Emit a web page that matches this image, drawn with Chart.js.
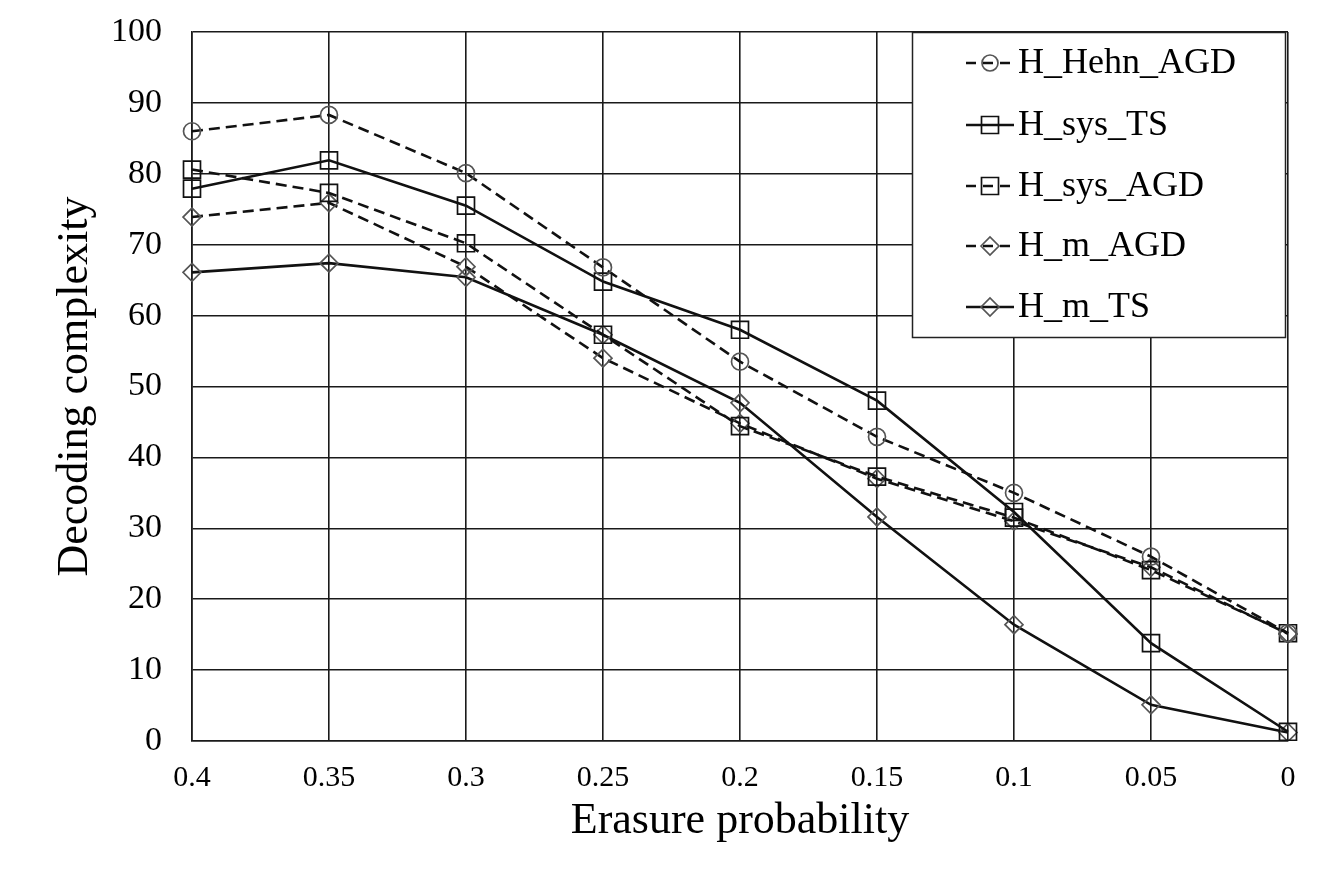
<!DOCTYPE html>
<html><head><meta charset="utf-8">
<script src="https://cdn.jsdelivr.net/npm/chart.js@4.4.1/dist/chart.umd.min.js"></script>
<style>html,body{margin:0;padding:0;background:#fff}</style>
</head><body>
<canvas id="c" width="1333" height="869"></canvas>
<script>
const categories = ['0.4','0.35','0.3','0.25','0.2','0.15','0.1','0.05','0'];
const yTicks = [0,10,20,30,40,50,60,70,80,90,100];
const hehnAGD = [86.0, 88.3, 80.1, 66.8, 53.5, 42.9, 35.0, 26.0, 15.2];
const sysTS   = [77.9, 81.9, 75.5, 64.8, 58.0, 48.0, 32.3, 13.8, 1.3];
const sysAGD  = [80.6, 77.3, 70.2, 57.3, 44.4, 37.3, 31.5, 24.1, 15.2];
const mAGD    = [73.9, 75.9, 66.9, 54.0, 44.8, 37.0, 31.0, 24.5, 15.1];
const mTS     = [66.1, 67.4, 65.4, 57.3, 47.7, 31.6, 16.4, 5.1, 1.2];
const seriesLabels = ['H_Hehn_AGD','H_sys_TS','H_sys_AGD','H_m_AGD','H_m_TS'];

const FONT = "'Liberation Serif', 'Times New Roman', serif";
const DASH = [11, 6];
const LINE = '#111';
const GREY = '#555';

function ds(label, data, dashed, style, radius, markColor){
  return {
    label, data,
    borderColor: LINE, borderWidth: 2.6,
    borderDash: dashed ? DASH : [],
    pointStyle: style, pointRadius: radius, pointHoverRadius: radius,
    pointBorderColor: markColor, pointBorderWidth: 1.7,
    pointBackgroundColor: 'rgba(0,0,0,0)',
    tension: 0, fill: false
  };
}

const legendPlugin = {
  id: 'boxLegend',
  afterDraw(chart){
    const ctx = chart.ctx, ca = chart.chartArea;
    const bx = ca.right - 376, by = ca.top, bw = 373, bh = 305;
    ctx.save();
    ctx.fillStyle = '#fff';
    ctx.fillRect(bx, by, bw, bh);
    ctx.strokeStyle = '#222'; ctx.lineWidth = 1.5;
    ctx.strokeRect(bx + 0.5, by + 0.5, bw, bh);
    const ys = [31, 93, 154, 214, 275];
    chart.data.datasets.forEach((d, i) => {
      const y = by + ys[i];
      const x0 = bx + 54, x1 = bx + 102, xm = bx + 78;
      ctx.strokeStyle = LINE; ctx.lineWidth = 2.6;
      ctx.setLineDash(d.borderDash.length ? [10, 7] : []);
      ctx.beginPath(); ctx.moveTo(x0, y); ctx.lineTo(x1, y); ctx.stroke();
      ctx.setLineDash([]);
      ctx.strokeStyle = d.pointBorderColor; ctx.lineWidth = 1.7;
      ctx.beginPath();
      if (d.pointStyle === 'circle') {
        ctx.arc(xm, y, 8, 0, Math.PI * 2);
      } else if (d.pointStyle === 'rect') {
        ctx.rect(xm - 8.5, y - 8.5, 17, 17);
      } else {
        ctx.moveTo(xm - 9, y); ctx.lineTo(xm, y - 9); ctx.lineTo(xm + 9, y); ctx.lineTo(xm, y + 9); ctx.closePath();
      }
      ctx.stroke();
      ctx.fillStyle = '#000';
      ctx.font = '36px ' + FONT;
      ctx.textBaseline = 'middle';
      ctx.textAlign = 'left';
      ctx.fillText(d.label, bx + 106, y + 1);
    });
    ctx.restore();
  }
};

new Chart(document.getElementById('c'), {
  type: 'line',
  data: {
    labels: categories,
    datasets: [
      ds(seriesLabels[0], hehnAGD, true, 'circle', 8.5, GREY),
      ds(seriesLabels[1], sysTS, false, 'rect', 12, '#111'),
      ds(seriesLabels[2], sysAGD, true, 'rect', 12, '#111'),
      ds(seriesLabels[3], mAGD, true, 'rectRot', 9, GREY),
      ds(seriesLabels[4], mTS, false, 'rectRot', 9, GREY)
    ]
  },
  options: {
    responsive: false,
    animation: false,
    events: [],
    layout: { padding: { left: 0, right: 45, top: 32, bottom: 0 } },
    plugins: { legend: { display: false }, tooltip: { enabled: false }, title: { display: false } },
    scales: {
      x: {
        type: 'category',
        offset: false,
        grid: { color: '#1a1a1a', lineWidth: 1.6, drawTicks: false },
        border: { color: '#1a1a1a', width: 1.6 },
        ticks: { color: '#000', font: { family: FONT, size: 30 }, padding: 19, maxRotation: 0, autoSkip: false },
        title: { display: true, text: 'Erasure probability', color: '#000', font: { family: FONT, size: 44 }, padding: { top: 0, bottom: 21 } },
        afterFit(s){ s.height = 128; }
      },
      y: {
        min: 0, max: 100,
        afterBuildTicks(s){ s.ticks = yTicks.map(v => ({ value: v })); },
        grid: { color: '#1a1a1a', lineWidth: 1.6, drawTicks: false },
        border: { color: '#1a1a1a', width: 1.6 },
        ticks: { color: '#000', font: { family: FONT, size: 34 }, padding: 30 },
        title: { display: true, text: 'Decoding complexity', color: '#000', font: { family: FONT, size: 44 }, padding: { top: 49, bottom: 0 } },
        afterFit(s){ s.width = 192; s.paddingTop = 0; s.paddingBottom = 0; }
      }
    }
  },
  plugins: [legendPlugin]
});
</script>
</body></html>
